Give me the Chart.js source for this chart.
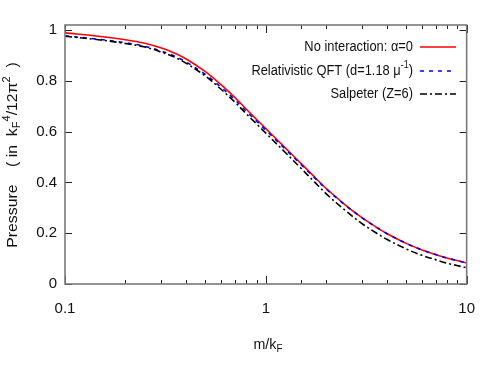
<!DOCTYPE html>
<html>
<head>
<meta charset="utf-8">
<script src="https://cdn.jsdelivr.net/npm/chart.js@4.4.0/dist/chart.umd.min.js"></script>
<style>
  html, body { margin: 0; padding: 0; background: #fff; }
</style>
</head>
<body>
<canvas id="myChart" width="491" height="382"></canvas>
<script>
// values
var massRatio = [0.1, 0.15, 0.2, 0.25, 0.3, 0.35, 0.4, 0.5, 0.6, 0.7, 0.8, 0.9, 1, 1.25, 1.5, 1.75, 2, 2.5, 3, 3.5, 4, 5, 6, 7, 8, 10];
var freePressure = [0.989, 0.975, 0.962, 0.948, 0.930, 0.910, 0.887, 0.836, 0.784, 0.735, 0.688, 0.648, 0.612, 0.536, 0.474, 0.421, 0.376, 0.310, 0.262, 0.227, 0.199, 0.160, 0.134, 0.116, 0.102, 0.083];
var qftPressure = [0.977, 0.963, 0.950, 0.936, 0.918, 0.898, 0.875, 0.825, 0.774, 0.726, 0.680, 0.641, 0.606, 0.531, 0.470, 0.418, 0.374, 0.309, 0.262, 0.227, 0.199, 0.160, 0.134, 0.116, 0.102, 0.083];
var salpeterPressure = [0.976, 0.961, 0.947, 0.933, 0.914, 0.894, 0.870, 0.819, 0.766, 0.717, 0.670, 0.630, 0.594, 0.518, 0.455, 0.401, 0.355, 0.288, 0.239, 0.204, 0.176, 0.138, 0.113, 0.096, 0.082, 0.064];

var seriesNames = ["No interaction: α=0", "Relativistic QFT (d=1.18 μ^{-1})", "Salpeter (Z=6)"];
var xTickValues = [0.1, 1, 10];
var xTickLabels = ["0.1", "1", "10"];
var yTickValues = [0, 0.2, 0.4, 0.6, 0.8, 1];
var yTickLabels = ["0", "0.2", "0.4", "0.6", "0.8", "1"];
var xTitle = "m/k_{F}";
var yTitle = "Pressure    ( in  k_{F}^{4}/12π^{2}  )";

var textFont = "'Liberation Sans', Arial, sans-serif";

function toPoints(values) {
  return massRatio.map(function (m, i) { return { x: m, y: values[i] }; });
}

function parseRich(str) {
  var parts = [];
  var re = /(\^|_)\{([^}]*)\}/g;
  var last = 0, m;
  while ((m = re.exec(str)) !== null) {
    if (m.index > last) parts.push({ t: str.slice(last, m.index), s: "" });
    parts.push({ t: m[2], s: m[1] });
    last = re.lastIndex;
  }
  if (last < str.length) parts.push({ t: str.slice(last), s: "" });
  return parts;
}

// sx squeezes the text horizontally (the reference uses a narrow face)
function drawRich(ctx, str, x, y, align, size, sx) {
  var parts = parseRich(str);
  var small = size * 0.7;
  var total = 0;
  parts.forEach(function (p) {
    ctx.font = (p.s ? small : size) + "px " + textFont;
    p.w = ctx.measureText(p.t).width;
    total += p.w;
  });
  ctx.save();
  ctx.translate(x, y);
  ctx.scale(sx, 1);
  var cx = 0;
  if (align === "right") cx = -total;
  if (align === "center") cx = -total / 2;
  ctx.textAlign = "left";
  ctx.textBaseline = "middle";
  parts.forEach(function (p) {
    ctx.font = (p.s ? small : size) + "px " + textFont;
    var dy = 0;
    if (p.s === "^") dy = -size * 0.38;
    if (p.s === "_") dy = size * 0.25;
    ctx.fillText(p.t, cx, dy);
    cx += p.w;
  });
  ctx.restore();
}

function isOneOf(v, list) {
  for (var i = 0; i < list.length; i++) {
    if (Math.abs(v - list[i]) < 1e-9) return i;
  }
  return -1;
}

// frame, inward ticks, legend and axis titles in gnuplot style
var framePlugin = {
  id: "frame",
  afterDatasetsDraw: function (chart) {
    var ctx = chart.ctx;
    var a = chart.chartArea;
    var xs = chart.scales.x;
    var ys = chart.scales.y;
    ctx.save();

    ctx.strokeStyle = "#222";
    ctx.lineWidth = 1;
    ctx.beginPath();
    xs.ticks.forEach(function (t) {
      var px = Math.round(xs.getPixelForValue(t.value)) + 0.5;
      var len = isOneOf(t.value, xTickValues) >= 0 ? 8 : 4;
      ctx.moveTo(px, a.bottom); ctx.lineTo(px, a.bottom - len);
      ctx.moveTo(px, a.top); ctx.lineTo(px, a.top + len);
    });
    ys.ticks.forEach(function (t) {
      var py = Math.round(ys.getPixelForValue(t.value)) + 0.5;
      ctx.moveTo(a.left, py); ctx.lineTo(a.left + 7, py);
      ctx.moveTo(a.right, py); ctx.lineTo(a.right - 7, py);
    });
    ctx.stroke();

    ctx.strokeStyle = "#7a7a7a";
    ctx.lineWidth = 1.6;
    ctx.strokeRect(a.left, a.top, a.right - a.left, a.bottom - a.top);

    // legend
    ctx.fillStyle = "#111";
    var rows = [47, 71, 94];
    chart.data.datasets.forEach(function (ds, i) {
      drawRich(ctx, seriesNames[i], 413, rows[i], "right", 15.5, 0.83);
      ctx.strokeStyle = ds.borderColor;
      ctx.lineWidth = ds.borderWidth;
      ctx.setLineDash(ds.borderDash || []);
      ctx.beginPath();
      ctx.moveTo(420, rows[i]);
      ctx.lineTo(456, rows[i]);
      ctx.stroke();
      ctx.setLineDash([]);
    });

    // axis titles
    drawRich(ctx, xTitle, 268, 345, "center", 15, 0.95);
    ctx.translate(13, 155);
    ctx.rotate(-Math.PI / 2);
    drawRich(ctx, yTitle, 0, 0, "center", 15.5, 1.02);
    ctx.restore();
  }
};

var ctx = document.getElementById("myChart").getContext("2d");
var chart = new Chart(ctx, {
  type: "line",
  data: {
    datasets: [
      {
        label: seriesNames[0],
        data: toPoints(freePressure),
        borderColor: "rgb(255, 0, 0)",
        borderWidth: 1.6,
        order: 3
      },
      {
        label: seriesNames[1],
        data: toPoints(qftPressure),
        borderColor: "rgb(0, 0, 240)",
        borderWidth: 1.6,
        borderDash: [4, 5],
        order: 2
      },
      {
        label: seriesNames[2],
        data: toPoints(salpeterPressure),
        borderColor: "rgb(0, 0, 0)",
        borderWidth: 1.6,
        borderDash: [7, 3, 2, 3],
        order: 1
      }
    ]
  },
  options: {
    responsive: false,
    animation: false,
    devicePixelRatio: 1,
    layout: { padding: { left: 0, right: 21, top: 25, bottom: 0 } },
    elements: {
      point: { radius: 0 },
      line: { tension: 0.35, fill: false }
    },
    plugins: {
      legend: { display: false },
      tooltip: { enabled: false }
    },
    scales: {
      x: {
        type: "logarithmic",
        min: 0.1,
        max: 10,
        grid: { display: false, drawTicks: false },
        border: { display: false },
        ticks: {
          autoSkip: false,
          maxRotation: 0,
          padding: 16,
          color: "#111",
          font: { family: textFont, size: 15 },
          callback: function (value) {
            var i = isOneOf(value, xTickValues);
            return i >= 0 ? xTickLabels[i] : "";
          }
        },
        afterFit: function (scale) { scale.height = 98; }
      },
      y: {
        min: 0,
        max: 1.02,
        grid: { display: false, drawTicks: false },
        border: { display: false },
        afterBuildTicks: function (scale) {
          scale.ticks = yTickValues.map(function (v) { return { value: v }; });
        },
        ticks: {
          padding: 8,
          color: "#111",
          font: { family: textFont, size: 15 },
          callback: function (value) {
            var i = isOneOf(value, yTickValues);
            return i >= 0 ? yTickLabels[i] : "";
          }
        },
        afterFit: function (scale) { scale.width = 65; }
      }
    }
  },
  plugins: [framePlugin]
});
</script>
</body>
</html>
